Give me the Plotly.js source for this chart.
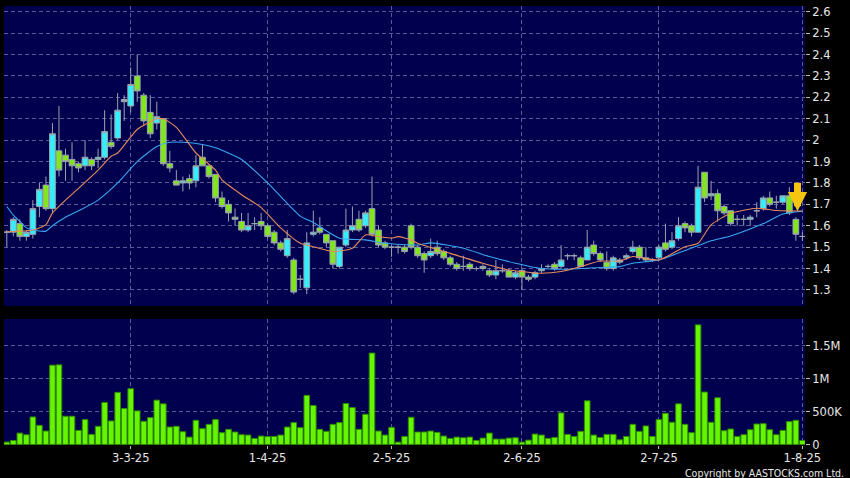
<!DOCTYPE html>
<html>
<head>
<meta charset="utf-8">
<script src="https://cdn.plot.ly/plotly-3.0.1.min.js"></script>
<style>
html,body{margin:0;padding:0;background:#000;}
#chart{width:850px;height:478px;}
</style>
</head>
<body>
<div id="chart"></div>
<script>
// Trading calendar (HK), 4 Feb 2025 - 1 Aug 2025
const startDate = '2025-02-04';
const endDate = '2025-08-01';
const holidays = ['2025-04-04','2025-04-18','2025-04-21','2025-05-01','2025-05-05','2025-07-01'];

const openP = [1.57,1.57,1.61,1.55,1.56,1.69,1.79,1.68,1.95,1.93,1.91,1.89,1.88,1.91,1.91,1.92,1.99,2.01,2.18,2.16,
2.30,2.21,2.13,2.08,2.10,1.89,1.81,1.80,1.82,1.81,1.92,1.88,1.84,1.73,1.70,1.64,1.62,1.58,1.61,1.62,
1.60,1.57,1.52,1.46,1.44,1.35,1.31,1.56,1.59,1.56,1.53,1.41,1.51,1.58,1.63,1.60,1.68,1.58,1.52,1.50,
1.50,1.50,1.60,1.50,1.47,1.46,1.50,1.48,1.45,1.42,1.41,1.42,1.40,1.41,1.39,1.37,1.39,1.39,1.36,1.39,
1.36,1.36,1.39,1.41,1.42,1.41,1.46,1.46,1.45,1.44,1.51,1.47,1.43,1.40,1.43,1.45,1.48,1.50,1.45,1.44,
1.45,1.52,1.50,1.54,1.61,1.60,1.57,1.85,1.74,1.75,1.69,1.67,1.63,1.63,1.63,1.67,1.68,1.73,1.71,1.71,
1.74,1.63,1.55];
const highP = [1.58,1.64,1.63,1.58,1.72,1.80,1.83,2.08,2.16,1.96,1.99,1.90,2.00,1.92,1.96,2.14,2.12,2.22,2.21,2.34,
2.40,2.22,2.21,2.18,2.10,1.95,1.86,1.83,1.84,1.93,1.98,1.88,1.84,1.76,1.72,1.68,1.66,1.66,1.64,1.66,
1.61,1.58,1.53,1.58,1.45,1.37,1.57,1.67,1.64,1.56,1.53,1.50,1.68,1.69,1.67,1.67,1.83,1.60,1.53,1.51,
1.51,1.51,1.61,1.51,1.48,1.54,1.53,1.49,1.46,1.43,1.46,1.43,1.41,1.42,1.40,1.44,1.42,1.40,1.39,1.40,
1.37,1.39,1.42,1.42,1.43,1.51,1.47,1.47,1.46,1.58,1.53,1.48,1.48,1.46,1.45,1.47,1.53,1.51,1.50,1.45,
1.51,1.61,1.57,1.64,1.62,1.61,1.88,1.85,1.81,1.77,1.70,1.67,1.65,1.65,1.65,1.71,1.74,1.76,1.74,1.74,
1.78,1.64,1.57];
const lowP = [1.50,1.55,1.53,1.53,1.54,1.64,1.67,1.66,1.83,1.81,1.81,1.85,1.86,1.86,1.87,1.91,1.96,2.00,2.09,2.13,
2.18,2.07,2.01,2.05,1.88,1.85,1.79,1.76,1.77,1.78,1.88,1.82,1.71,1.68,1.62,1.60,1.57,1.57,1.58,1.58,
1.54,1.51,1.48,1.45,1.28,1.31,1.28,1.55,1.56,1.50,1.40,1.40,1.50,1.57,1.57,1.59,1.55,1.50,1.49,1.455,
1.47,1.47,1.49,1.45,1.38,1.45,1.46,1.44,1.41,1.39,1.39,1.39,1.39,1.39,1.36,1.35,1.38,1.36,1.35,1.30,
1.34,1.35,1.38,1.40,1.39,1.40,1.44,1.44,1.41,1.44,1.46,1.43,1.39,1.39,1.42,1.44,1.47,1.44,1.43,1.43,
1.44,1.48,1.49,1.53,1.57,1.55,1.57,1.71,1.72,1.62,1.65,1.60,1.60,1.60,1.60,1.64,1.67,1.69,1.68,1.70,
1.65,1.53,1.53];
const closeP = [1.57,1.63,1.55,1.57,1.68,1.77,1.68,2.03,1.86,1.90,1.88,1.87,1.92,1.88,1.92,2.04,1.97,2.14,2.19,2.26,
2.23,2.09,2.03,2.11,1.89,1.87,1.79,1.81,1.80,1.88,1.88,1.83,1.73,1.69,1.66,1.63,1.58,1.60,1.61,1.60,
1.55,1.52,1.49,1.54,1.29,1.35,1.52,1.57,1.57,1.52,1.42,1.50,1.58,1.60,1.58,1.66,1.56,1.51,1.50,1.50,
1.50,1.48,1.50,1.46,1.44,1.48,1.47,1.45,1.42,1.40,1.41,1.40,1.40,1.40,1.37,1.39,1.39,1.36,1.38,1.36,
1.35,1.38,1.40,1.41,1.40,1.44,1.46,1.46,1.41,1.50,1.47,1.44,1.40,1.45,1.44,1.46,1.50,1.45,1.44,1.44,
1.50,1.49,1.53,1.60,1.59,1.57,1.78,1.73,1.75,1.67,1.66,1.61,1.63,1.63,1.64,1.67,1.73,1.70,1.71,1.74,
1.66,1.56,1.55];
const volume = [36e3,61e3,173e3,148e3,418e3,291e3,204e3,1204e3,1209e3,429e3,429e3,214e3,378e3,153e3,276e3,638e3,357e3,791e3,546e3,847e3,
510e3,352e3,408e3,673e3,617e3,265e3,276e3,194e3,112e3,367e3,240e3,306e3,378e3,179e3,230e3,189e3,148e3,143e3,92e3,128e3,
122e3,122e3,143e3,265e3,332e3,255e3,745e3,592e3,230e3,199e3,306e3,332e3,622e3,561e3,230e3,459e3,1388e3,204e3,143e3,260e3,
36e3,122e3,413e3,189e3,189e3,204e3,184e3,128e3,92e3,112e3,102e3,112e3,61e3,97e3,173e3,82e3,82e3,97e3,102e3,36e3,
66e3,158e3,143e3,92e3,107e3,480e3,153e3,122e3,199e3,663e3,143e3,107e3,153e3,153e3,71e3,122e3,306e3,199e3,281e3,122e3,
378e3,474e3,337e3,617e3,306e3,179e3,1816e3,796e3,337e3,709e3,209e3,235e3,122e3,148e3,224e3,311e3,316e3,224e3,148e3,214e3,
347e3,367e3,61e3];

// Moving averages (bar index, value)
const maShortIdx = [0,4,6,7,9,11,14,16,17,20,23,24,26,29,32,33,36,39,42,45,47,50,53,55,57,59,60,62,63,68,73,77,79,82,85,88,91,94,96,100,104,106,108,111,115,118,122];
const maShortVal = [1.572,1.58,1.605,1.66,1.72,1.775,1.86,1.925,1.94,2.05,2.10,2.10,2.06,1.94,1.86,1.814,1.745,1.685,1.59,1.518,1.502,1.48,1.495,1.557,1.549,1.542,1.549,1.534,1.518,1.471,1.425,1.393,1.386,1.378,1.386,1.409,1.435,1.435,1.456,1.44,1.502,1.518,1.604,1.658,1.682,1.671,1.669];
const maLongIdx = [0,1,2,3,4,6,7,9,11,14,17,20,23,25,27,30,32,36,40,45,47,51,55,58,63,65,70,74,78,82,86,91,94,96,100,104,108,111,116,119,122];
const maLongVal = [1.69,1.65,1.62,1.59,1.58,1.575,1.60,1.64,1.67,1.72,1.80,1.90,1.97,1.99,1.99,1.98,1.965,1.91,1.80,1.645,1.615,1.542,1.534,1.518,1.51,1.52,1.495,1.456,1.425,1.40,1.397,1.405,1.409,1.425,1.44,1.484,1.53,1.552,1.61,1.655,1.668];

const tickDates = ['2025-03-03','2025-04-01','2025-05-02','2025-06-02','2025-07-02','2025-08-01'];
const tickLabels = ['3-3-25','1-4-25','2-5-25','2-6-25','2-7-25','1-8-25'];
const priceTicks = [1.3,1.4,1.5,1.6,1.7,1.8,1.9,2.0,2.1,2.2,2.3,2.4,2.5,2.6];
const volTicks = [0,500000,1000000,1500000];
const volTickLabels = ['0','500K','1M','1.5M'];

// build trading dates
function buildDates(){
  const out=[]; let d=new Date(startDate+'T00:00:00Z'); const e=new Date(endDate+'T00:00:00Z');
  while(d<=e){
    const s=d.toISOString().slice(0,10); const wd=d.getUTCDay();
    if(wd!==0 && wd!==6 && holidays.indexOf(s)<0) out.push(s);
    d=new Date(d.getTime()+86400000);
  }
  return out;
}
const dates = buildDates();

const GRID = '#5a5a96';
const AXFONT = {family:'DejaVu Sans, Verdana, sans-serif', size:11.5, color:'#e6e6e6'};

const candle = {
  type:'candlestick', x:dates, open:openP, high:highP, low:lowP, close:closeP,
  xaxis:'x', yaxis:'y',
  increasing:{line:{color:'#9aa3ad', width:1}, fillcolor:'#33eefc'},
  decreasing:{line:{color:'#9aa3ad', width:1}, fillcolor:'#82e61e'},
  whiskerwidth:0, hoverinfo:'skip', showlegend:false
};
const maShort = {type:'scatter', mode:'lines', x:maShortIdx.map(i=>dates[i]), y:maShortVal,
  line:{color:'#e88c5c', width:1.1, shape:'spline', smoothing:0.6}, xaxis:'x', yaxis:'y', hoverinfo:'skip', showlegend:false};
const maLong = {type:'scatter', mode:'lines', x:maLongIdx.map(i=>dates[i]), y:maLongVal,
  line:{color:'#3aa6f0', width:1.1, shape:'spline', smoothing:0.6}, xaxis:'x', yaxis:'y', hoverinfo:'skip', showlegend:false};
const vol = {type:'bar', x:dates, y:volume, xaxis:'x', yaxis:'y2',
  marker:{color:'#66f500', line:{color:'#2f8a00', width:1}}, hoverinfo:'skip', showlegend:false};

const W=850, H=478;
const layout = {
  width:W, height:H, margin:{l:0,r:0,t:0,b:0},
  paper_bgcolor:'#000000', plot_bgcolor:'#00004e',
  boxgap:0.12, boxgroupgap:0, bargap:0.14,
  font:AXFONT,
  xaxis:{
    type:'category', domain:[4/W, 805/W], anchor:'y2',
    range:[-0.43, 122.4], rangeslider:{visible:false},
    tickvals:tickDates, ticktext:tickLabels,
    showgrid:true, gridcolor:GRID, griddash:'4px,3px', gridwidth:1,
    ticks:'outside', ticklen:3, tickcolor:'#bbbbbb', ticklabelstandoff:-1,
    tickfont:{family:'DejaVu Sans, Verdana, sans-serif', size:11.5, color:'#e6e6e6'},
    showline:false, zeroline:false, fixedrange:true
  },
  yaxis:{
    domain:[(H-306)/H, (H-6)/H], anchor:'x', side:'right',
    range:[1.225, 2.627], tickvals:priceTicks,
    showgrid:true, gridcolor:GRID, griddash:'4px,3px', gridwidth:1,
    ticks:'outside', ticklen:4, tickcolor:'#bbbbbb', tickfont:AXFONT,
    showline:false, zeroline:false
  },
  yaxis2:{
    domain:[(H-445)/H, (H-319)/H], anchor:'x', side:'right',
    range:[-8000, 1905000], tickvals:volTicks, ticktext:volTickLabels,
    showgrid:true, gridcolor:GRID, griddash:'4px,3px', gridwidth:1,
    ticks:'outside', ticklen:4, tickcolor:'#bbbbbb', tickfont:AXFONT,
    showline:false, zeroline:false
  },
  annotations:[
    {xref:'x', yref:'y', x:121.25, y:1.668, ax:0, ay:-30, showarrow:true, arrowhead:2, arrowsize:0.55, arrowwidth:7, arrowcolor:'#f6c510', text:''},
    {xref:'paper', yref:'paper', x:846/W, y:(H-472.5)/H, xanchor:'right', yanchor:'middle', showarrow:false,
     text:'Copyright by AASTOCKS.com Ltd.', font:{family:'DejaVu Sans Condensed, DejaVu Sans, sans-serif', size:10.5, color:'#e6e6e6'}}
  ]
};

Plotly.newPlot('chart', [vol, candle, maLong, maShort], layout, {staticPlot:true, displayModeBar:false});
</script>
</body>
</html>
